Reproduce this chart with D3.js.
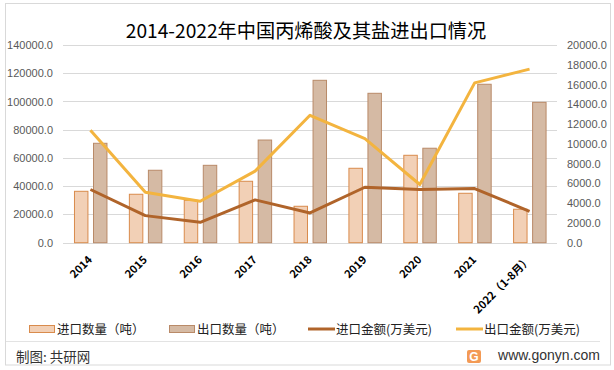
<!DOCTYPE html>
<html><head><meta charset="utf-8">
<script src="https://cdn.jsdelivr.net/npm/d3@7"></script>
<style>
html,body{margin:0;padding:0;background:#fff;}
svg{display:block;font-family:"Noto Sans CJK SC","Liberation Sans",sans-serif;}
</style></head>
<body><svg id="c" width="614" height="370"></svg>
<script>
const categories = ["2014","2015","2016","2017","2018","2019","2020","2021","2022（1-8月）"];
const importQty = [36400,34300,30000,43500,25800,52700,61900,35000,23700];
const exportQty = [70400,51300,54800,72700,115000,105800,66900,112200,99400];
const importAmt = [5380,2740,2060,4330,3010,5610,5380,5480,3180];
const exportAmt = [11370,5110,4190,7240,12890,10520,5890,16170,17560];
const leftTicks = [0,20000,40000,60000,80000,100000,120000,140000];
const rightTicks = [0,2000,4000,6000,8000,10000,12000,14000,16000,18000,20000];
const seriesNames = ["进口数量（吨）","出口数量（吨）","进口金额(万美元)","出口金额(万美元)"];
const title = "2014-2022年中国丙烯酸及其盐进出口情况";

const svg = d3.select("#c");
const L = 63, R = 557, T = 45, B = 242.7;

svg.append("rect").attr("x",5.5).attr("y",3.5).attr("width",605).attr("height",361.5)
  .attr("fill","#fff").attr("stroke","#d9d9d9");

svg.append("text").attr("x",306).attr("y",37.5).attr("text-anchor","middle")
  .attr("font-size",19.2).attr("fill","#000").text(title);

const x = d3.scaleBand().domain(categories).range([L,R]).padding(0);
const xs = d3.scaleBand().domain(["imp","exp"]).range([x.bandwidth()*0.2, x.bandwidth()*0.81]).paddingInner(0.24);
const yL = d3.scaleLinear().domain([0,140000]).range([B,T]);
const yR = d3.scaleLinear().domain([0,20000]).range([B,T]);

// grid
const g = svg.append("g");
g.selectAll("line.grid").data(leftTicks).enter().append("line")
  .attr("x1",L).attr("x2",R).attr("y1",d=>Math.round(yL(d))+0.5).attr("y2",d=>Math.round(yL(d))+0.5)
  .attr("stroke","#d9d9d9").attr("stroke-width",1);

// left axis
const axL = d3.axisLeft(yL).tickValues(leftTicks).tickSize(0).tickPadding(0).tickFormat(d=>d3.format(".1f")(d));
const gL = svg.append("g").attr("transform",`translate(${53},0)`).call(axL);
gL.select(".domain").remove();
gL.selectAll("text").attr("font-size",11).attr("fill","#595959").attr("font-family","Liberation Sans, sans-serif");

const axR = d3.axisRight(yR).tickValues(rightTicks).tickSize(0).tickPadding(0).tickFormat(d=>d3.format(".1f")(d));
const gR = svg.append("g").attr("transform",`translate(${567},0)`).call(axR);
gR.select(".domain").remove();
gR.selectAll("text").attr("font-size",11).attr("fill","#595959").attr("font-family","Liberation Sans, sans-serif");

// bars
const bars = svg.append("g");
bars.selectAll("rect.imp").data(categories).enter().append("rect")
  .attr("x",(d)=>x(d)+xs("imp")+0.5).attr("width",xs.bandwidth()-1)
  .attr("y",(d,i)=>yL(importQty[i])).attr("height",(d,i)=>B-yL(importQty[i]))
  .attr("fill","#F2D0B6").attr("stroke","#D98B4C").attr("stroke-width",1);
bars.selectAll("rect.exp").data(categories).enter().append("rect")
  .attr("x",(d)=>x(d)+xs("exp")+0.5).attr("width",xs.bandwidth()-1)
  .attr("y",(d,i)=>yL(exportQty[i])).attr("height",(d,i)=>B-yL(exportQty[i]))
  .attr("fill","#D5BAA4").attr("stroke","#B98A68").attr("stroke-width",1);

// lines
const cx = d=>x(d)+x.bandwidth()/2;
const lineImp = d3.line().x((d,i)=>cx(categories[i])).y(d=>yR(d));
svg.append("path").datum(importAmt).attr("d",lineImp).attr("fill","none")
  .attr("stroke","#B0642A").attr("stroke-width",3).attr("stroke-linejoin","round");
svg.append("path").datum(exportAmt).attr("d",lineImp).attr("fill","none")
  .attr("stroke","#F3B43F").attr("stroke-width",3).attr("stroke-linejoin","round");

// x labels
svg.append("g").selectAll("text").data(categories).enter().append("text")
  .attr("transform",d=>`translate(${cx(d)+2.5},${260.5}) rotate(-45)`)
  .attr("text-anchor","end").attr("font-size",11).attr("font-weight","bold").attr("fill","#000")
  .text(d=>d);

// legend
const lg = svg.append("g").attr("font-size",12.5).attr("fill","#222");
const lgX = [29,169,308,456];
[0,1].forEach(i=>{
  lg.append("rect").attr("x",lgX[i]+0.5).attr("y",325.5).attr("width",25).attr("height",7)
    .attr("fill",i?"#D5BAA4":"#F2D0B6").attr("stroke",i?"#B98A68":"#D98B4C");
});
[2,3].forEach(i=>{
  lg.append("line").attr("x1",lgX[i]).attr("x2",lgX[i]+27).attr("y1",329).attr("y2",329)
    .attr("stroke",i===2?"#B0642A":"#F3B43F").attr("stroke-width",3);
});
seriesNames.forEach((n,i)=>{
  lg.append("text").attr("x",lgX[i]+28).attr("y",333.5).text(n);
});

// separator and footer
svg.append("line").attr("x1",6).attr("x2",600).attr("y1",341.5).attr("y2",341.5).attr("stroke","#e3e3e3");
svg.append("text").attr("x",16).attr("y",362).attr("font-size",13.5).attr("fill","#333").text("制图: 共研网");
const logo = svg.append("g").attr("transform","translate(467,350)");
logo.append("rect").attr("width",14).attr("height",13).attr("rx",2).attr("fill","#F39A55");
logo.append("text").attr("x",7).attr("y",11).attr("text-anchor","middle").attr("font-size",12)
  .attr("font-weight","bold").attr("fill","#fff").attr("font-family","Liberation Sans, sans-serif").text("G");
svg.append("text").attr("x",600).attr("y",360).attr("text-anchor","end").attr("font-size",14)
  .attr("fill","#333").attr("font-family","Liberation Sans, sans-serif").text("www.gonyn.com");
</script></body></html>
